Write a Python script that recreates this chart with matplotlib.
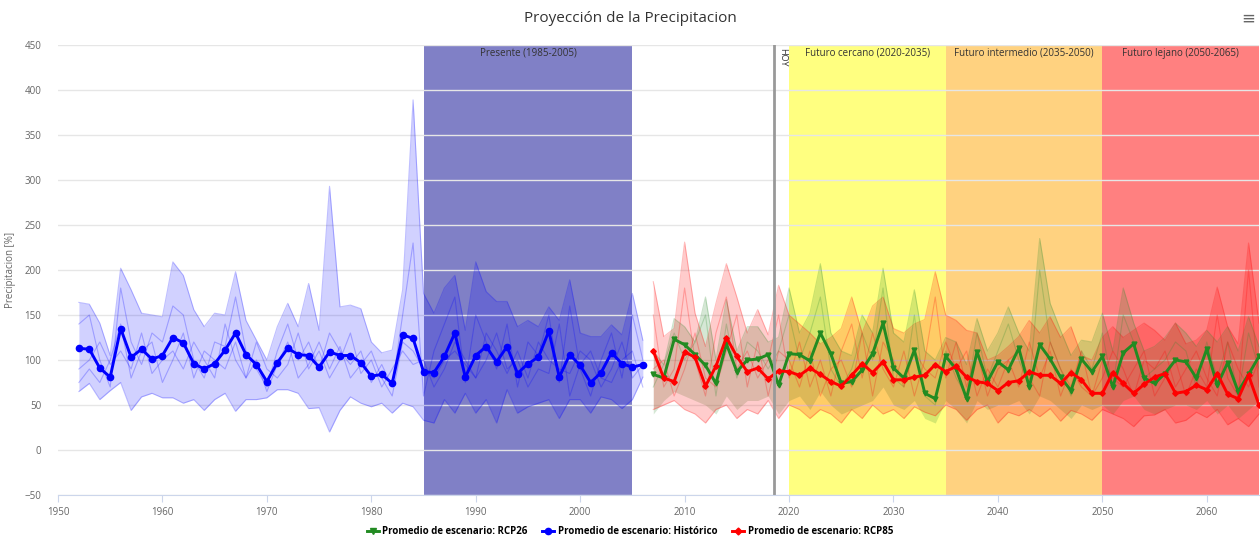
import numpy as np
import matplotlib
matplotlib.use("Agg")
import matplotlib.pyplot as plt
from matplotlib.lines import Line2D

plt.rcParams["font.family"] = ["Open Sans", "DejaVu Sans"]

# ── data ───────────────────────────────────────────────────────────────
years_hist = list(range(1952, 2007))
years_fut = list(range(2007, 2066))

hist_mean = [113, 112, 91, 81, 135, 103, 112, 101, 105, 125,
             119, 96, 90, 96, 111, 130, 106, 95, 76, 97,
             113, 106, 105, 92, 109, 105, 105, 97, 82, 84,
             74, 128, 124, 87, 86, 104, 130, 81, 105, 115,
             98, 115, 85, 96, 103, 132, 81, 106, 94, 75,
             86, 108, 96, 92, 95]
hist_upper = [164, 162, 141, 105, 202, 178, 152, 150, 148, 209,
              194, 156, 137, 152, 150, 198, 144, 122, 100, 137,
              163, 137, 185, 133, 293, 159, 161, 157, 120, 108,
              111, 178, 389, 174, 152, 180, 194, 133, 209, 176,
              165, 165, 137, 144, 137, 159, 144, 189, 130, 126,
              126, 139, 128, 174, 122]
hist_lower = [65, 74, 56, 66, 75, 44, 59, 63, 58, 58,
              52, 56, 44, 56, 63, 43, 56, 56, 58, 67,
              67, 63, 46, 47, 20, 44, 59, 52, 48, 52,
              41, 52, 48, 33, 30, 56, 41, 63, 41, 56,
              30, 67, 41, 48, 52, 56, 35, 56, 56, 41,
              59, 56, 46, 56, 81]
hist_models = [
    [140, 150, 100, 70, 180, 120, 95, 130, 120, 160, 150, 100, 80, 120, 115, 170, 110, 90, 70, 110,
     140, 100, 120, 90, 130, 110, 95, 110, 75, 95, 70, 150, 230, 60, 110, 140, 170, 75, 150, 120,
     90, 140, 70, 120, 105, 150, 75, 160, 90, 60, 100, 130, 80, 150, 100],
    [90, 100, 120, 95, 110, 90, 130, 85, 100, 110, 90, 120, 100, 80, 140, 100, 80, 120, 90, 80,
     95, 130, 90, 110, 80, 100, 130, 85, 100, 70, 90, 110, 95, 100, 70, 90, 120, 100, 80, 130,
     110, 85, 110, 80, 120, 100, 90, 85, 110, 100, 70, 90, 120, 80, 95],
    [75, 90, 75, 100, 140, 80, 110, 120, 75, 100, 130, 80, 110, 100, 90, 120, 80, 100, 65, 95,
     120, 80, 95, 120, 90, 115, 80, 95, 110, 80, 60, 120, 110, 90, 80, 100, 110, 95, 80, 100,
     130, 90, 100, 70, 90, 85, 140, 60, 95, 110, 80, 75, 100, 110, 70],
]

rcp26_mean = [84, 80, 123, 117, 106, 94, 74, 118, 87, 100,
              101, 106, 72, 107, 106, 99, 130, 107, 74, 76,
              89, 107, 141, 91, 80, 111, 63, 57, 104, 90,
              57, 109, 76, 98, 89, 113, 70, 117, 101, 81,
              66, 101, 87, 104, 70, 108, 118, 80, 74, 85,
              100, 98, 80, 112, 72, 97, 65, 84, 104]
rcp26_upper = [110, 95, 146, 137, 120, 170, 100, 167, 110, 137,
               137, 120, 125, 180, 130, 152, 207, 130, 110, 105,
               150, 130, 202, 130, 120, 178, 110, 100, 125, 120,
               95, 146, 110, 130, 159, 130, 110, 235, 163, 133,
               105, 122, 120, 152, 110, 180, 141, 110, 115, 125,
               141, 130, 115, 133, 120, 137, 110, 148, 115]
rcp26_lower = [40, 55, 65, 60, 55, 50, 40, 60, 45, 55,
               55, 60, 40, 55, 60, 45, 65, 50, 40, 45,
               50, 55, 70, 50, 45, 55, 35, 30, 55, 45,
               30, 55, 45, 50, 50, 55, 40, 60, 55, 45,
               35, 50, 45, 50, 40, 55, 60, 45, 40, 45,
               50, 50, 45, 55, 40, 50, 35, 45, 55]
rcp26_models = [
    [70, 95, 130, 100, 120, 150, 60, 140, 80, 120, 110, 90, 110, 150, 100, 130, 170, 90, 70, 90,
     130, 100, 180, 80, 70, 150, 60, 50, 110, 80, 60, 130, 80, 110, 140, 100, 70, 200, 120, 90,
     60, 110, 90, 130, 70, 150, 120, 80, 90, 100, 120, 110, 70, 120, 80, 120, 60, 130, 90],
]

rcp85_mean = [110, 80, 76, 109, 103, 71, 93, 125, 104, 87,
              91, 79, 88, 87, 83, 91, 84, 76, 71, 83,
              96, 86, 98, 78, 78, 81, 83, 95, 87, 93,
              81, 76, 74, 66, 75, 77, 87, 83, 83, 74,
              86, 78, 63, 63, 86, 74, 63, 73, 81, 85,
              63, 65, 72, 67, 85, 62, 57, 83, 50]
rcp85_upper = [187, 126, 135, 231, 152, 115, 163, 207, 170, 130,
               156, 128, 183, 150, 140, 130, 118, 125, 135, 170,
               130, 160, 170, 135, 130, 140, 145, 198, 150, 144,
               133, 130, 100, 105, 115, 126, 144, 130, 148, 125,
               137, 105, 100, 125, 137, 125, 133, 141, 133, 122,
               141, 118, 122, 133, 181, 137, 118, 230, 141]
rcp85_lower = [45, 50, 55, 45, 40, 30, 45, 50, 35, 45,
               40, 55, 35, 50, 45, 35, 45, 40, 30, 45,
               35, 50, 40, 45, 35, 48, 42, 38, 50, 45,
               33, 45, 50, 30, 42, 38, 45, 37, 46, 32,
               44, 40, 33, 45, 40, 35, 26, 38, 39, 45,
               30, 33, 42, 36, 45, 28, 35, 26, 40]
rcp85_models = [
    [150, 70, 90, 180, 100, 60, 130, 170, 90, 110, 80, 100, 150, 80, 120, 70, 100, 60, 110, 140,
     80, 130, 90, 70, 110, 60, 100, 170, 80, 120, 70, 110, 60, 90, 100, 70, 120, 80, 110, 60,
     90, 70, 60, 100, 80, 70, 90, 110, 60, 80, 100, 60, 90, 70, 150, 80, 60, 200, 70],
    [90, 100, 60, 90, 130, 80, 70, 110, 150, 70, 120, 60, 110, 100, 70, 110, 60, 90, 100, 70,
     130, 60, 120, 100, 70, 110, 90, 80, 120, 90, 110, 60, 90, 70, 100, 110, 80, 60, 120, 90,
     70, 110, 60, 80, 110, 90, 60, 100, 90, 110, 70, 90, 110, 80, 60, 120, 90, 70, 100],
]

bands = [
    (1985, 2005, "#8080c6", "Presente (1985-2005)"),
    (2020, 2035, "#ffff80", "Futuro cercano (2020-2035)"),
    (2035, 2050, "#ffd280", "Futuro intermedio (2035-2050)"),
    (2050, 2065, "#ff8080", "Futuro lejano (2050-2065)"),
]
hoy = 2018.6

# ── plotting ──────────────────────────────────────────────────────────
fig = plt.figure(figsize=(12.6, 5.4), dpi=100)
ax = fig.add_axes([58 / 1260, 45 / 540, 1201 / 1260, 450 / 540])

for x0, x1, col, lab in bands:
    ax.axvspan(x0, x1, color=col, lw=0, zorder=0)
    ax.text((x0 + x1) / 2, 447, lab, ha="center", va="top", fontsize=7, color="#333333", zorder=6)

ax.axvline(hoy, color="#999999", lw=2, zorder=5)
ax.text(hoy + 0.4, 447, "HOY", rotation=270, ha="left", va="top", fontsize=6.5, color="#333333", zorder=6)

for yv in range(-50, 451, 50):
    ax.axhline(yv, color="#e6e6e6", lw=1, zorder=0.5)

# ensembles
ax.fill_between(years_hist, hist_lower, hist_upper, color="#0000ff", alpha=0.18, lw=0, zorder=1)
ax.plot(years_hist, hist_upper, color="#0000ff", alpha=0.25, lw=0.8, zorder=1.2)
ax.plot(years_hist, hist_lower, color="#0000ff", alpha=0.25, lw=0.8, zorder=1.2)
for m in hist_models:
    ax.plot(years_hist, m, color="#0000ff", alpha=0.25, lw=0.8, zorder=1.3)

ax.fill_between(years_fut, rcp26_lower, rcp26_upper, color="#2e8b2e", alpha=0.2, lw=0, zorder=1)
ax.plot(years_fut, rcp26_upper, color="#2e8b2e", alpha=0.25, lw=0.8, zorder=1.2)
for m in rcp26_models:
    ax.plot(years_fut, m, color="#2e8b2e", alpha=0.25, lw=0.8, zorder=1.3)

ax.fill_between(years_fut, rcp85_lower, rcp85_upper, color="#ff0000", alpha=0.2, lw=0, zorder=1.1)
ax.plot(years_fut, rcp85_upper, color="#ff0000", alpha=0.25, lw=0.8, zorder=1.2)
ax.plot(years_fut, rcp85_lower, color="#ff0000", alpha=0.25, lw=0.8, zorder=1.2)
for m in rcp85_models:
    ax.plot(years_fut, m, color="#ff0000", alpha=0.25, lw=0.8, zorder=1.3)

# means
ax.plot(years_fut, rcp26_mean, color="#228b22", lw=2.1, marker="v", ms=3.5, zorder=3)
ax.plot(years_hist, hist_mean, color="#0000ff", lw=2.1, marker="o", ms=4.5, zorder=3)
ax.plot(years_fut, rcp85_mean, color="#ff0000", lw=2.1, marker="D", ms=2.8, zorder=3.1)

ax.set_xlim(1950, 2065)
ax.set_ylim(-50, 450)
ax.set_xticks(range(1950, 2061, 10))
ax.set_yticks(range(-50, 451, 50))
for s in ["top", "right", "left"]:
    ax.spines[s].set_visible(False)
ax.spines["bottom"].set_color("#ccd6eb")
ax.spines["bottom"].set_zorder(6)
ax.tick_params(axis="x", colors="#ccd6eb", length=5, labelcolor="#666666", labelsize=7)
ax.tick_params(axis="y", length=0, labelcolor="#666666", labelsize=7, pad=12)
ax.set_ylabel("Precipitacion [%]", fontsize=7, color="#666666", labelpad=6)

fig.text(0.5, 1 - 18 / 540, "Proyección de la Precipitacion", ha="center", va="center",
         fontsize=11, color="#333333")
fig.text(1 - 5 / 1260, 1 - 20 / 540, "≡", ha="right", va="center", fontsize=12, color="#666666")

handles = [
    Line2D([], [], color="#228b22", lw=2.1, marker="v", ms=4.5),
    Line2D([], [], color="#0000ff", lw=2.1, marker="o", ms=4.5),
    Line2D([], [], color="#ff0000", lw=2.1, marker="D", ms=3.5),
]
labels = ["Promedio de escenario: RCP26", "Promedio de escenario: Histórico",
          "Promedio de escenario: RCP85"]
fig.legend(handles, labels, loc="center", bbox_to_anchor=(0.5, 1 - 532 / 540), ncol=3,
           frameon=False, prop={"size": 7, "weight": "bold"}, handlelength=1.2,
           columnspacing=1.5, handletextpad=0.4)

fig.savefig("out.png", dpi=100)
